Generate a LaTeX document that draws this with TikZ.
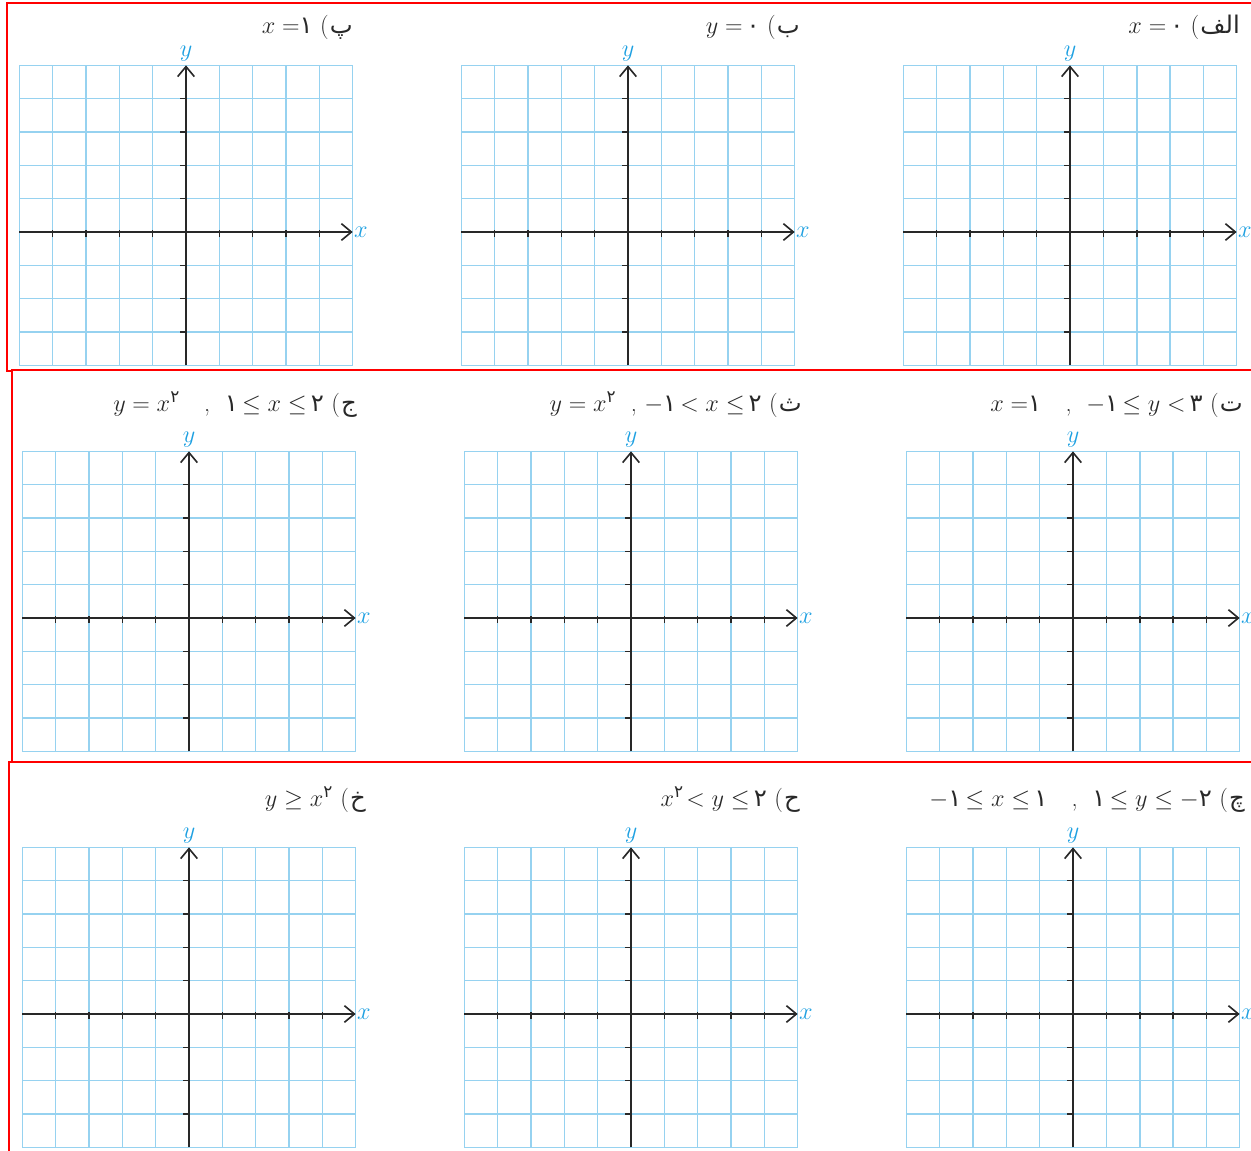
\documentclass[tikz,border=0pt]{standalone}
\usepackage{amsmath}
\usepackage{fontspec}
\newfontfamily\arabicfont[Script=Arabic,Scale=1.0]{DejaVu Sans}
\TeXXeTstate=1
\usetikzlibrary{arrows.meta}

\definecolor{gridblue}{RGB}{150,210,240}
\definecolor{labelblue}{RGB}{30,160,225}
\definecolor{axisgray}{RGB}{40,40,40}

% persian digits and item letters
\newcommand\pd[1]{\text{\arabicfont #1}}
\newcommand\harf[1]{(\kern1pt{\arabicfont\beginR #1\endR}}

\tikzset{
  gridline/.style={gridblue, line width=1.4pt},
  axisline/.style={axisgray, line width=1.4pt},
  arrowline/.style={axisline, -{Straight Barb[length=0.3cm,width=0.5cm,line width=1.4pt]}},
  tickline/.style={axisgray, line width=1.4pt},
  axislabel/.style={labelblue, font=\huge},
  plottitle/.style={anchor=base east, inner sep=0pt, text=axisgray, font=\huge},
  redframe/.style={red, line width=1.1pt}
}

\begin{document}
\begin{tikzpicture}[x=0.03cm,y=-0.03cm]
  \useasboundingbox (0,0) rectangle (1251,1151);

  % Red frames round the rows
  \draw[redframe] (1251,3) -- (7,3) -- (7,371) -- (12,371);
  \draw[redframe] (1251,370) -- (12,370) -- (12,762);
  \draw[redframe] (1251,762) -- (9,762) -- (9,1151);

  % Titles, first row
  \node[plottitle] (t1) at (353,34) {$x=$\pd{۱}\ \harf{پ}};
  \node[plottitle] (t2) at (800,34) {$y=$\,\pd{۰}\ \harf{ب}};
  \node[plottitle] (t3) at (1240,34) {$x=$\,\pd{۰}\ \harf{الف}};

  % Titles, second row
  \node[plottitle] (t4) at (357,411) {$y=x^{\pd{۲}}$\quad,\ \ \pd{۱}\,$\leq x\leq$\,\pd{۲}\ \harf{ج}};
  \node[plottitle] (t5) at (802,411) {$y=x^{\pd{۲}}$\ \ ,\ $-$\pd{۱}\,$<x\leq$\,\pd{۲}\ \harf{ث}};
  \node[plottitle] (t6) at (1243,411) {$x=$\pd{۱}\quad,\ \ $-$\pd{۱}\,$\leq y<$\,\pd{۳}\ \harf{ت}};

  % Titles, third row
  \node[plottitle] (t7) at (366,806) {$y\geq x^{\pd{۲}}$\ \harf{خ}};
  \node[plottitle] (t8) at (800,806) {$x^{\pd{۲}}\!<y\leq$\,\pd{۲}\ \harf{ح}};
  \node[plottitle] (t9) at (1245,806) {$-$\pd{۱}\,$\leq x\leq$\,\pd{۱}\quad,\ \ \pd{۱}\,$\leq y\leq -$\pd{۲}\ \harf{چ}};

  % Panel (pe)
  \begin{scope}[shift={(186,232)},x=1cm,y=1cm]
    \draw[gridline] (-5,-4) grid (5,5);
    \foreach \t in {-4,...,-1,1,2,3,4} \draw[tickline] (\t,0.05) -- (\t,-0.15);
    \foreach \t in {-3,...,-1,1,2,3,4} \draw[tickline] (0,\t) -- (-0.18,\t);
    \node[axislabel,right,inner sep=1pt] (x1) at (5,0) {$x$};
    \node[axislabel,above] (y1) at (0,5) {$y$};
    \draw[arrowline] (-5,0) -- (x1.west);
    \draw[arrowline] (0,-4) -- (y1.south);
  \end{scope}

  % Panel (be)
  \begin{scope}[shift={(628,232)},x=1cm,y=1cm]
    \draw[gridline] (-5,-4) grid (5,5);
    \foreach \t in {-4,...,-1,1,2,3,4} \draw[tickline] (\t,0.05) -- (\t,-0.15);
    \foreach \t in {-3,...,-1,1,2,3,4} \draw[tickline] (0,\t) -- (-0.18,\t);
    \node[axislabel,right,inner sep=1pt] (x2) at (5,0) {$x$};
    \node[axislabel,above] (y2) at (0,5) {$y$};
    \draw[arrowline] (-5,0) -- (x2.west);
    \draw[arrowline] (0,-4) -- (y2.south);
  \end{scope}

  % Panel (alef)
  \begin{scope}[shift={(1070,232)},x=1cm,y=1cm]
    \draw[gridline] (-5,-4) grid (5,5);
    \foreach \t in {-4,...,-1,1,2,3,4} \draw[tickline] (\t,0.05) -- (\t,-0.15);
    \foreach \t in {-3,...,-1,1,2,3,4} \draw[tickline] (0,\t) -- (-0.18,\t);
    \node[axislabel,right,inner sep=1pt] (x3) at (5,0) {$x$};
    \node[axislabel,above] (y3) at (0,5) {$y$};
    \draw[arrowline] (-5,0) -- (x3.west);
    \draw[arrowline] (0,-4) -- (y3.south);
  \end{scope}

  % Panel (jim)
  \begin{scope}[shift={(189,618)},x=1cm,y=1cm]
    \draw[gridline] (-5,-4) grid (5,5);
    \foreach \t in {-4,...,-1,1,2,3,4} \draw[tickline] (\t,0.05) -- (\t,-0.15);
    \foreach \t in {-3,...,-1,1,2,3,4} \draw[tickline] (0,\t) -- (-0.18,\t);
    \node[axislabel,right,inner sep=1pt] (x4) at (5,0) {$x$};
    \node[axislabel,above] (y4) at (0,5) {$y$};
    \draw[arrowline] (-5,0) -- (x4.west);
    \draw[arrowline] (0,-4) -- (y4.south);
  \end{scope}

  % Panel (se)
  \begin{scope}[shift={(631,618)},x=1cm,y=1cm]
    \draw[gridline] (-5,-4) grid (5,5);
    \foreach \t in {-4,...,-1,1,2,3,4} \draw[tickline] (\t,0.05) -- (\t,-0.15);
    \foreach \t in {-3,...,-1,1,2,3,4} \draw[tickline] (0,\t) -- (-0.18,\t);
    \node[axislabel,right,inner sep=1pt] (x5) at (5,0) {$x$};
    \node[axislabel,above] (y5) at (0,5) {$y$};
    \draw[arrowline] (-5,0) -- (x5.west);
    \draw[arrowline] (0,-4) -- (y5.south);
  \end{scope}

  % Panel (te)
  \begin{scope}[shift={(1073,618)},x=1cm,y=1cm]
    \draw[gridline] (-5,-4) grid (5,5);
    \foreach \t in {-4,...,-1,1,2,3,4} \draw[tickline] (\t,0.05) -- (\t,-0.15);
    \foreach \t in {-3,...,-1,1,2,3,4} \draw[tickline] (0,\t) -- (-0.18,\t);
    \node[axislabel,right,inner sep=1pt] (x6) at (5,0) {$x$};
    \node[axislabel,above] (y6) at (0,5) {$y$};
    \draw[arrowline] (-5,0) -- (x6.west);
    \draw[arrowline] (0,-4) -- (y6.south);
  \end{scope}

  % Panel (khe)
  \begin{scope}[shift={(189,1014)},x=1cm,y=1cm]
    \draw[gridline] (-5,-4) grid (5,5);
    \foreach \t in {-4,...,-1,1,2,3,4} \draw[tickline] (\t,0.05) -- (\t,-0.15);
    \foreach \t in {-3,...,-1,1,2,3,4} \draw[tickline] (0,\t) -- (-0.18,\t);
    \node[axislabel,right,inner sep=1pt] (x7) at (5,0) {$x$};
    \node[axislabel,above] (y7) at (0,5) {$y$};
    \draw[arrowline] (-5,0) -- (x7.west);
    \draw[arrowline] (0,-4) -- (y7.south);
  \end{scope}

  % Panel (he)
  \begin{scope}[shift={(631,1014)},x=1cm,y=1cm]
    \draw[gridline] (-5,-4) grid (5,5);
    \foreach \t in {-4,...,-1,1,2,3,4} \draw[tickline] (\t,0.05) -- (\t,-0.15);
    \foreach \t in {-3,...,-1,1,2,3,4} \draw[tickline] (0,\t) -- (-0.18,\t);
    \node[axislabel,right,inner sep=1pt] (x8) at (5,0) {$x$};
    \node[axislabel,above] (y8) at (0,5) {$y$};
    \draw[arrowline] (-5,0) -- (x8.west);
    \draw[arrowline] (0,-4) -- (y8.south);
  \end{scope}

  % Panel (che)
  \begin{scope}[shift={(1073,1014)},x=1cm,y=1cm]
    \draw[gridline] (-5,-4) grid (5,5);
    \foreach \t in {-4,...,-1,1,2,3,4} \draw[tickline] (\t,0.05) -- (\t,-0.15);
    \foreach \t in {-3,...,-1,1,2,3,4} \draw[tickline] (0,\t) -- (-0.18,\t);
    \node[axislabel,right,inner sep=1pt] (x9) at (5,0) {$x$};
    \node[axislabel,above] (y9) at (0,5) {$y$};
    \draw[arrowline] (-5,0) -- (x9.west);
    \draw[arrowline] (0,-4) -- (y9.south);
  \end{scope}
\end{tikzpicture}
\end{document}
